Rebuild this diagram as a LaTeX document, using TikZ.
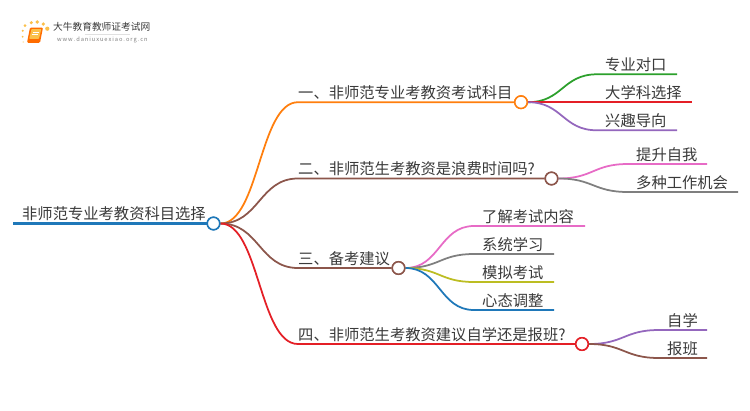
\documentclass[tikz,border=0pt]{standalone}
\usepackage{fontspec}
\setmainfont{Noto Sans CJK SC}
\usetikzlibrary{calc}
\definecolor{cblue}{HTML}{1F78B9}
\definecolor{corange}{HTML}{FF7F0E}
\definecolor{cbrown}{HTML}{8C564B}
\definecolor{cred}{HTML}{E41F26}
\definecolor{cgreen}{HTML}{2CA02C}
\definecolor{cpurple}{HTML}{9467BD}
\definecolor{cpink}{HTML}{E76BC6}
\definecolor{cgray}{HTML}{7F7F7F}
\definecolor{colive}{HTML}{BCBD22}
\definecolor{ctext}{HTML}{3A3A3A}
\definecolor{csun}{HTML}{FBC04A}
\tikzset{
  x=1pt,y=-1pt,
  hub/.style={circle,draw=#1,fill=white,line width=1.5pt,minimum size=12.5pt,inner sep=0pt},
  lab/.style={anchor=base west,inner sep=0pt,text=ctext,font=\fontsize{15.3}{15.3}\selectfont},
  wire/.style={draw=#1,line width=1.75pt},
}
\newcommand{\bend}[4]{% colour, from, to, end of line
  \draw[wire=#1] (#2.east) .. controls ($(#2.east)!0.5!(#2.east-|#3)$) and ($(#3)!0.5!(#3-|#2.east)$) .. (#3) -- (#4);
}
\begin{document}
\begin{tikzpicture}
\useasboundingbox (0,0) rectangle (750,410);
\fill[white] (0,0) rectangle (750,410);

% logo
\foreach \px/\py/\r in {25/25.7/1.5,31.3/22.7/1.7,37.3/22/1.9,43.3/24/1.8,47.3/28.7/2.1,22.7/30.7/1.1,22.7/36.7/1}
  \fill[csun] (\px,\py) circle (\r);
\fill[csun,opacity=.45] (23.3,42) circle (.9);
\fill[orange!85!red,rounded corners=1.2pt] (30,27.5) -- (43,27.5) -- (40,42.8) -- (27,42.8) -- cycle;
\fill[csun,rounded corners=.6pt] (31.5,29) -- (41.3,29) -- (39,38.8) -- (29.2,38.8) -- cycle;
\draw[white,line width=.5pt] (32.8,32) -- (38.8,32) (32.2,34.5) -- (38.2,34.5);
\node[anchor=base west,inner sep=0pt,text=ctext,font=\fontsize{9.7}{9.7}\selectfont] (logoA) at (53,30.5) {大牛教育教师证考试网};
\draw[black!12,line width=.5pt] (85,33.8) -- (130,33.8);
\node[anchor=base west,inner sep=0pt,text=black!50,font=\fontsize{5.7}{5.7}\selectfont] (logoB) at (57,41.3) {w\,w\,w\,.\,d\,a\,n\,i\,u\,x\,u\,e\,x\,i\,a\,o\,.\,o\,r\,g\,.\,c\,n};

% hubs
\coordinate (rootL) at (13,223.5);
\coordinate (aL) at (298,102.2);
\coordinate (bL) at (298,178.5);
\coordinate (cL) at (298,268);
\coordinate (dL) at (298,344);

\node[hub=cblue] (root) at (213.5,223.5) {};
\node[hub=corange] (a) at (521,102.2) {};
\node[hub=cbrown] (b) at (551.5,178.5) {};
\node[hub=cbrown] (c) at (398.5,268) {};
\node[hub=cred] (d) at (582,344) {};

% leaf line ends
\foreach \n/\xa/\xb/\y in {a1/597/677/74.3,a2/597/692/102.2,a3/597/677/130.3,
  b1/628/707/164,b2/628/738/192,
  c1/474/585/226,c2/474/554/254,c3/474/554/282,c4/474/554/310,
  d1/659/707/330,d2/659/707/358}{
  \coordinate (\n s) at (\xa,\y);
  \coordinate (\n e) at (\xb,\y);
}

\bend{corange}{root}{aL}{a}
\bend{cbrown}{root}{bL}{b}
\bend{cbrown}{root}{cL}{c}
\bend{cred}{root}{dL}{d}
\draw[wire=cblue,line width=2.2pt] (rootL) -- (root);
\bend{cgreen}{a}{a1s}{a1e}
\bend{cred}{a}{a2s}{a2e}
\bend{cpurple}{a}{a3s}{a3e}
\bend{cpink}{b}{b1s}{b1e}
\bend{cgray}{b}{b2s}{b2e}
\bend{cpink}{c}{c1s}{c1e}
\bend{cgray}{c}{c2s}{c2e}
\bend{colive}{c}{c3s}{c3e}
\bend{cblue}{c}{c4s}{c4e}
\bend{cpurple}{d}{d1s}{d1e}
\bend{cbrown}{d}{d2s}{d2e}

% redraw hubs above the connectors
\node[hub=cblue] at (root) {};
\node[hub=corange] at (a) {};
\node[hub=cbrown] at (b) {};
\node[hub=cbrown] at (c) {};
\node[hub=cred] at (d) {};

% labels
\node[lab] (t0) at (22,219.5) {非师范专业考教资科目选择};
\node[lab] (t1) at (298,98.5) {一、非师范专业考教资考试科目};
\node[lab] (t2) at (298,174.5) {二、非师范生考教资是浪费时间吗?};
\node[lab] (t3) at (298,264) {三、备考建议};
\node[lab] (t4) at (298,340) {四、非师范生考教资建议自学还是报班?};
\node[lab] (la1) at (605,70.6) {专业对口};
\node[lab] (la2) at (605,98.6) {大学科选择};
\node[lab] (la3) at (605,126.6) {兴趣导向};
\node[lab] (lb1) at (636,160) {提升自我};
\node[lab] (lb2) at (636,188) {多种工作机会};
\node[lab] (lc1) at (482,222) {了解考试内容};
\node[lab] (lc2) at (482,250) {系统学习};
\node[lab] (lc3) at (482,278) {模拟考试};
\node[lab] (lc4) at (482,306) {心态调整};
\node[lab] (ld1) at (667,326) {自学};
\node[lab] (ld2) at (667,354) {报班};
\end{tikzpicture}
\end{document}
